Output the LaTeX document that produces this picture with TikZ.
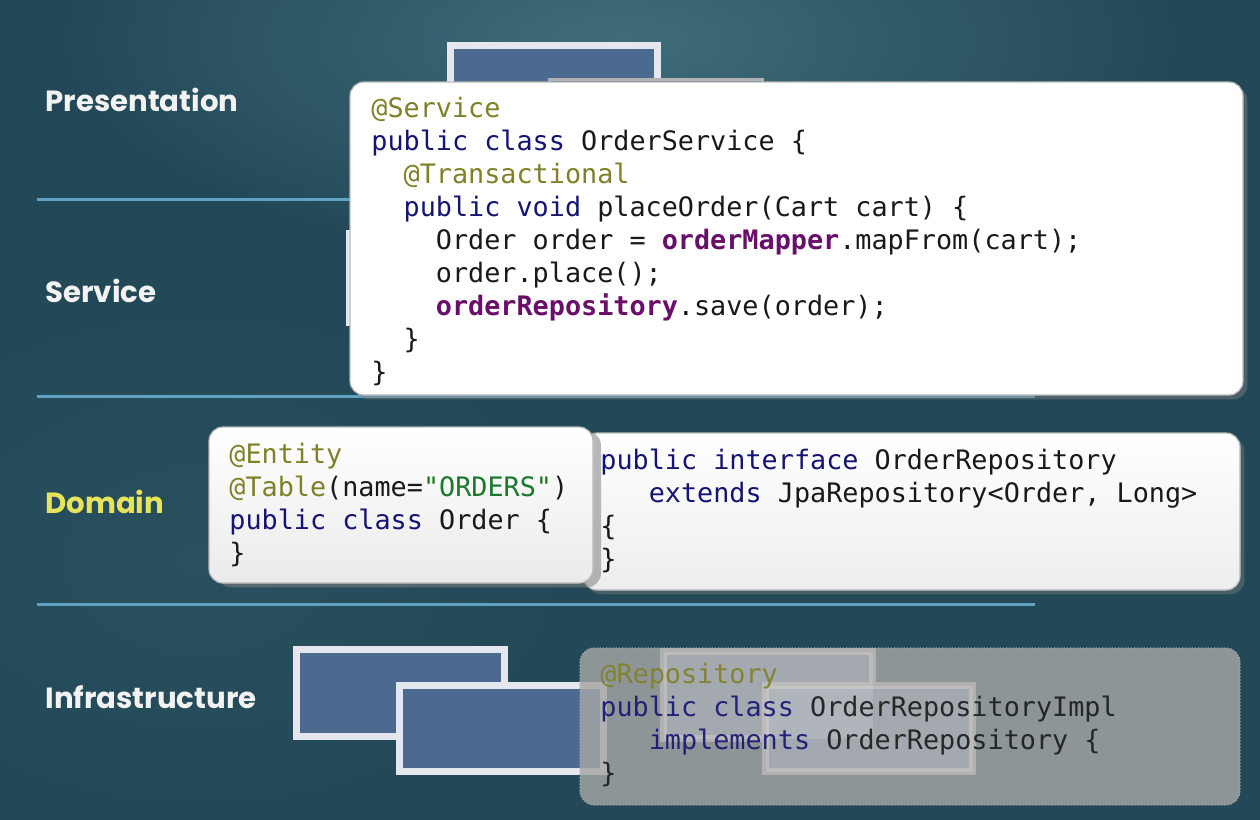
\documentclass[tikz,border=0pt]{standalone}
\usepackage{fontspec}
\usetikzlibrary{shadows}

\newfontfamily\codefont{DejaVu Sans Mono}
\newfontfamily\layerfont{Poppins}

\definecolor{bgteal}{RGB}{35,73,88}
\definecolor{bglight}{RGB}{64,108,122}
\definecolor{rulecol}{RGB}{96,162,192}
\definecolor{boxblue}{RGB}{76,106,144}
\definecolor{boxedge}{RGB}{228,232,238}
\definecolor{annot}{RGB}{128,128,40}
\definecolor{keyw}{RGB}{20,20,115}
\definecolor{field}{RGB}{105,15,105}
\definecolor{strg}{RGB}{25,120,45}
\definecolor{plain}{RGB}{25,25,25}
\definecolor{labelwhite}{RGB}{242,242,242}
\definecolor{domainyellow}{RGB}{232,228,90}
\definecolor{glass}{RGB}{166,166,166}

\newcommand{\anno}[1]{\textcolor{annot}{#1}}
\newcommand{\kwd}[1]{\textcolor{keyw}{#1}}
\newcommand{\fld}[1]{\textcolor{field}{\bfseries #1}}
\newcommand{\strg}[1]{\textcolor{strg}{#1}}

\tikzset{
  layerlabel/.style={anchor=west, inner sep=0pt, text=labelwhite, font=\layerfont\bfseries\fontsize{14.6}{18}\selectfont},
  codetext/.style={anchor=north west, inner sep=0pt, align=left, text=plain, font=\codefont\fontsize{13.4}{16.5}\selectfont},
  tierline/.style={rulecol, line width=1.5pt},
  bluebox/.style={fill=boxblue, draw=boxedge, line width=3.5pt},
  codebox/.style={fill=white, draw=gray!55, line width=0.6pt, rounded corners=7pt},
}

\begin{document}
\begin{tikzpicture}[x=0.5pt, y=-0.5pt]
    % Background
    \useasboundingbox (0,0) rectangle (1260,820);
    \clip (0,0) rectangle (1260,820);
    \fill[bgteal] (0,0) rectangle (1260,820);
    \shade[inner color=bglight, outer color=bgteal] (620,40) ellipse (560 and 220);
    \shade[inner color=bgteal!80!bglight, outer color=bgteal] (200,560) ellipse (380 and 260);

    % Tier separators
    \draw[tierline] (37,199) -- (1035,199);
    \draw[tierline] (37,396) -- (1035,396);
    \draw[tierline] (37,604) -- (1035,604);

    % Tier names
    \node[layerlabel] (lpres) at (45,100) {Presentation};
    \node[layerlabel] (lserv) at (45,291) {Service};
    \node[layerlabel, text=domainyellow] (ldom) at (45,502) {Domain};
    \node[layerlabel] (linfra) at (45,697) {Infrastructure};

    % Presentation boxes (behind the service code)
    \draw[bluebox] (450.5,45.5) rectangle (657.5,146.5);
    \draw[bluebox, draw=gray!60, line width=1.5pt] (549,79.5) rectangle (762,172);
    % Service box (behind the service code)
    \draw[bluebox] (349.5,233.5) rectangle (560,322);

    % Service code
    \draw[codebox, drop shadow={opacity=0.45}] (350,82) rectangle (1243,395);
    \node[codetext] (svccode) at (371,97) {\anno{@Service}\\
    \kwd{public class} OrderService \{\\
    \phantom{xx}\anno{@Transactional}\\
    \phantom{xx}\kwd{public void} placeOrder(Cart cart) \{\\
    \phantom{xxxx}Order order = \fld{orderMapper}.mapFrom(cart);\\
    \phantom{xxxx}order.place();\\
    \phantom{xxxx}\fld{orderRepository}.save(order);\\
    \phantom{xx}\}\\
    \}};

    % Domain: repository interface
    \draw[codebox, top color=white, bottom color=gray!14, drop shadow={opacity=0.4}] (583,433) rectangle (1240,590);
    \node[codetext] (repocode) at (600,449) {\kwd{public interface} OrderRepository\\
    \phantom{xxx}\kwd{extends} JpaRepository<Order, Long>\\
    \{\\
    \}};

    % Domain: entity
    \draw[codebox, top color=white, bottom color=gray!16, drop shadow={opacity=0.55, shadow xshift=4pt}] (209,427) rectangle (593,583);
    \node[codetext] (entitycode) at (229,443) {\anno{@Entity}\\
    \anno{@Table}(name=\strg{"ORDERS"})\\
    \kwd{public class} Order \{\\
    \}};

    % Infrastructure boxes
    \draw[bluebox] (296.5,649.5) rectangle (504.5,736.5);
    \draw[bluebox] (399.5,685.5) rectangle (603.5,771.5);
    \draw[bluebox] (663.5,651.5) rectangle (872.5,738.5);
    \draw[bluebox] (765.5,685.5) rectangle (972.5,771.5);

    % Repository implementation (greyed out)
    \draw[codebox, fill=glass, fill opacity=0.82, draw=gray!70, densely dotted] (580,648) rectangle (1240,805);
    \fill[white, opacity=0.14] (663.5,651.5) rectangle (872.5,738.5);
    \fill[white, opacity=0.14] (765.5,685.5) rectangle (972.5,771.5);
    \node[codetext, opacity=0.9] (implcode) at (600,663) {\anno{@Repository}\\
    \kwd{public class} OrderRepositoryImpl\\
    \phantom{xxx}\kwd{implements} OrderRepository \{\\
    \}};
\end{tikzpicture}
\end{document}
